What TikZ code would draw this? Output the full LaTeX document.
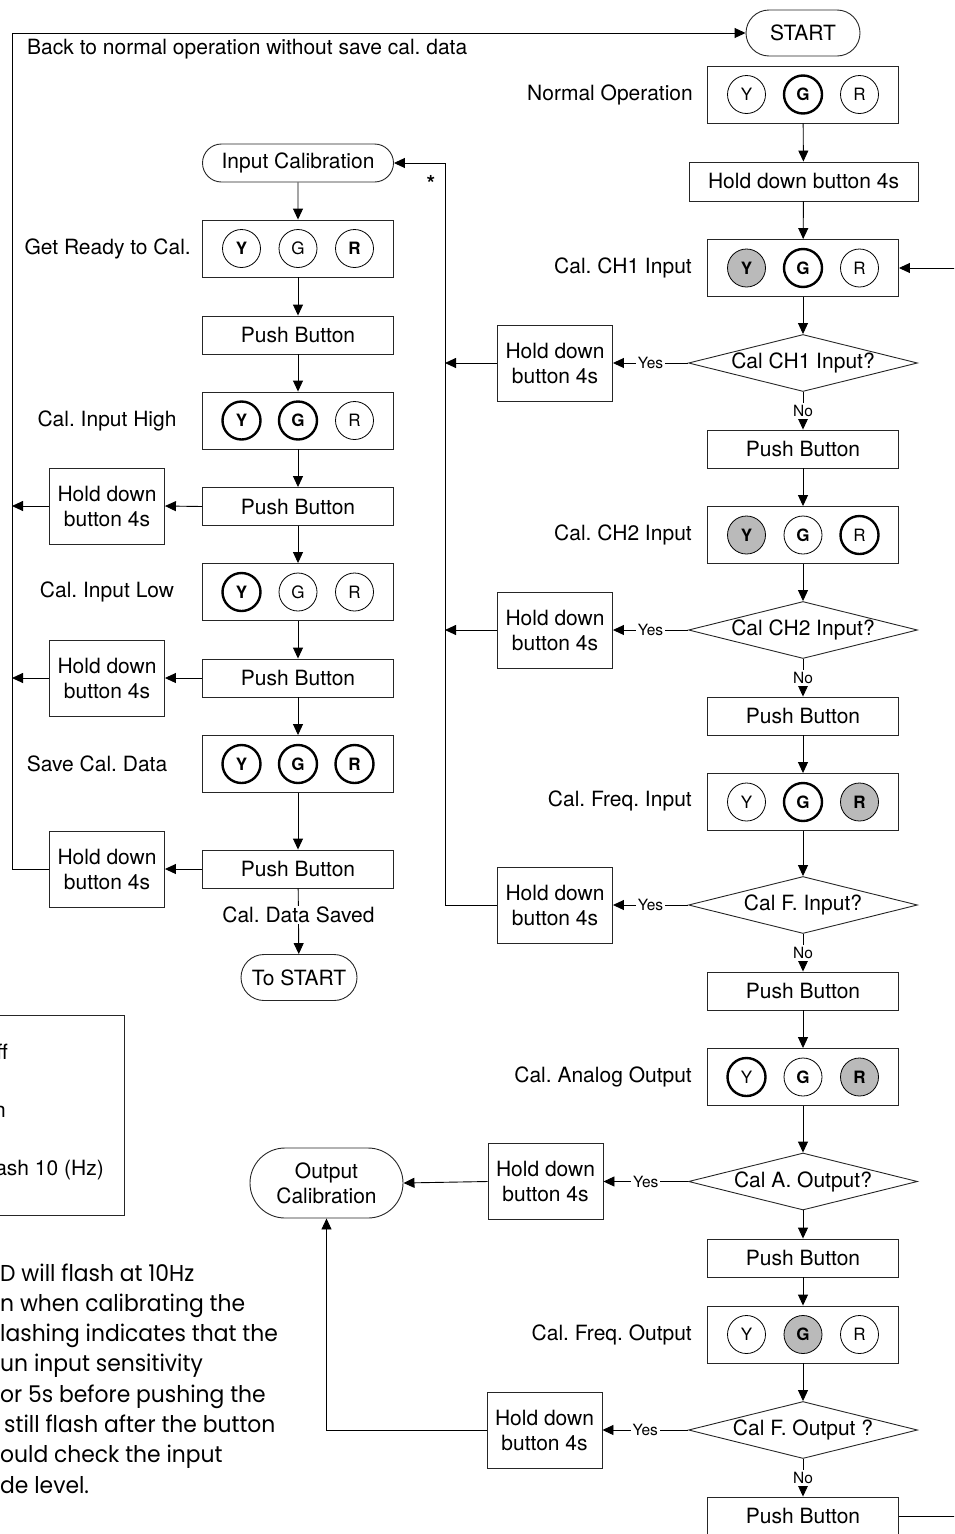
\documentclass[tikz,border=0pt]{standalone}
\usepackage{fontspec}
\setmainfont{TeX Gyre Heros}
\newfontfamily\notefont[FakeStretch=0.95]{Poppins}
\usetikzlibrary{shapes.geometric,shapes.misc,arrows.meta,calc}
\newcommand{\ledrow}[6]{%
  \node[ledbox] (#1) at (#2,#3) {};
  \node[#4] (#1y) at ([xshift=-56.5pt]#1.center) {Y};
  \node[#5] (#1g) at (#1.center) {G};
  \node[#6] (#1r) at ([xshift=56.5pt]#1.center) {R};
}
\frenchspacing
\begin{document}
\begin{tikzpicture}[x=1pt,y=-1pt,
  every node/.style={font=\fontsize{21}{25}\selectfont},
  box/.style={draw=black!85, line width=0.9pt, minimum width=191pt, minimum height=38pt, inner sep=0pt, align=center},
  ledbox/.style={box, minimum height=57pt},
  holdbox/.style={draw=black!85, line width=0.9pt, minimum width=115pt, minimum height=76pt, inner sep=0pt, align=center},
  term/.style={draw=black!85, line width=0.9pt, rounded rectangle, inner sep=0pt, align=center},
  dec/.style={draw=black!85, line width=0.9pt, diamond, minimum width=229pt, minimum height=57pt, inner sep=0pt},
  led/.style={circle, minimum size=38pt, inner sep=0pt, font=\fontsize{17}{17}\selectfont},
  ledoff/.style={led, draw, line width=0.8pt},
  ledoffb/.style={ledoff, font=\fontsize{17}{17}\selectfont\bfseries},
  ledon/.style={led, draw, line width=2.4pt, font=\fontsize{17}{17}\selectfont\bfseries},
  ledonn/.style={led, draw, line width=2.4pt},
  ledfl/.style={led, draw, line width=0.8pt, fill=black!27, font=\fontsize{17}{17}\selectfont\bfseries},
  yn/.style={fill=white, inner sep=2pt, font=\fontsize{15.5}{16}\selectfont},
  arr/.style={-{Triangle[length=11pt,width=10pt]}, line width=0.9pt},
  ln/.style={line width=0.9pt},
  note/.style={anchor=base west, inner sep=0pt, font=\notefont\fontsize{23}{30}\selectfont}
]
\path[use as bounding box, clip] (0,0) rectangle (954,1534);

% ---------- right column ----------
\node[term, minimum width=114pt, minimum height=46pt] (start) at (803,33) {START};
\node[anchor=west, inner sep=0pt] (back) at (27,49) {Back to normal operation without save cal. data};
\ledrow{nop}{803}{94.5}{ledoff}{ledon}{ledoff}
\node[anchor=east, inner sep=0pt] (nopl) at (693,95) {Normal Operation};
\node[box, minimum width=229pt, minimum height=39pt] (hold0) at (803.5,181.5) {Hold down button 4s};

\ledrow{ch1}{803}{268}{ledfl}{ledon}{ledoff}
\node[anchor=east, inner sep=0pt] (ch1l) at (692,268) {Cal. CH1 Input};
\node[dec] (d1) at (803,363) {\makebox[0pt]{Cal CH1 Input?}};
\node[holdbox] (h1) at (555,363) {Hold down\\button 4s};
\node[box] (p1) at (803,449) {Push Button};

\ledrow{ch2}{803}{535}{ledfl}{ledoffb}{ledonn}
\node[anchor=east, inner sep=0pt] (ch2l) at (692,535) {Cal. CH2 Input};
\node[dec] (d2) at (803,630) {\makebox[0pt]{Cal CH2 Input?}};
\node[holdbox] (h2) at (555,630) {Hold down\\button 4s};
\node[box] (p2) at (803,716) {Push Button};

\ledrow{fi}{803}{802}{ledoff}{ledon}{ledfl}
\node[anchor=east, inner sep=0pt] (fil) at (692,801) {Cal. Freq. Input};
\node[dec] (d3) at (803,905) {\makebox[0pt]{Cal F. Input?}};
\node[holdbox] (h3) at (555,905) {Hold down\\button 4s};
\node[box] (p3) at (803,991) {Push Button};

\ledrow{ao}{803}{1077}{ledonn}{ledoffb}{ledfl}
\node[anchor=east, inner sep=0pt] (aol) at (692,1077) {Cal. Analog Output};
\node[dec] (d4) at (803,1181.5) {\makebox[0pt]{Cal A. Output?}};
\node[holdbox] (h4) at (545.5,1181.5) {Hold down\\button 4s};
\node[box] (p4) at (803,1258) {Push Button};

\ledrow{fo}{803}{1334.5}{ledoff}{ledfl}{ledoff}
\node[anchor=east, inner sep=0pt] (fol) at (692,1335) {Cal. Freq. Output};
\node[dec] (d5) at (803,1430) {\makebox[0pt]{Cal F. Output ?}};
\node[holdbox] (h5) at (544.5,1430) {Hold down\\button 4s};
\node[box] (p5) at (803,1516) {Push Button};

\node[term, minimum width=153pt, minimum height=70pt] (oc) at (326.5,1183) {Output\\Calibration};

% ---------- left column ----------
\node[term, minimum width=191pt, minimum height=38pt] (ic) at (298,163) {Input Calibration};
\node[inner sep=0pt, font=\fontsize{22}{22}\selectfont\bfseries] (star) at (431,183) {*};
\ledrow{gr}{298}{248.5}{ledoffb}{ledoff}{ledoffb}
\node[anchor=east, inner sep=0pt] (grl) at (191,248.5) {Get Ready to Cal.};
\node[box] (lp1) at (298,335) {Push Button};
\ledrow{ih}{298}{420.5}{ledon}{ledon}{ledoff}
\node[inner sep=0pt] (ihl) at (107,420.5) {Cal. Input High};
\node[box] (lp2) at (298,506.5) {Push Button};
\node[holdbox] (lh1) at (107,506) {Hold down\\button 4s};
\ledrow{il}{298}{592}{ledon}{ledoff}{ledoff}
\node[inner sep=0pt] (ill) at (107,592) {Cal. Input Low};
\node[box] (lp3) at (298,678) {Push Button};
\node[holdbox] (lh2) at (107,678) {Hold down\\button 4s};
\ledrow{sv}{298}{764}{ledon}{ledon}{ledon}
\node[inner sep=0pt] (svl) at (97,764) {Save Cal. Data};
\node[box] (lp4) at (298,869) {Push Button};
\node[holdbox] (lh3) at (107,869) {Hold down\\button 4s};
\node[term, minimum width=116pt, minimum height=46pt] (ts) at (299,977.5) {To START};

% ---------- legend (cut at the left edge, as in the reference) ----------
\draw[ln, draw=black!85] (-60,1015) rectangle (124,1215);
\node[anchor=east, inner sep=0pt] (lg1) at (8,1052) {Off};
\node[anchor=east, inner sep=0pt] (lg2) at (6,1110) {On};
\node[anchor=east, inner sep=0pt] (lg3) at (104,1170) {Flash 10 (Hz)};

% ---------- note (cut at the left edge, as in the reference) ----------
\node[note] (n1) at (0,1281) {D will flash at 10Hz};
\node[note] (n2) at (0,1311) {n when calibrating the};
\node[note] (n3) at (0,1341) {lashing indicates that the};
\node[note] (n4) at (0,1371) {un input sensitivity};
\node[note] (n5) at (0,1402) {or 5s before pushing the};
\node[note] (n6) at (4,1432) {still flash after the button};
\node[note] (n7) at (0,1462) {ould check the input};
\node[note] (n8) at (0,1493) {de level.};

% ---------- connectors: right column ----------
\coordinate (v1) at (445,363);
\coordinate (v2) at (445,630);
\coordinate (v3) at (445,905);
\coordinate (v0) at (445,163);
\coordinate (rin) at (960,268);
\coordinate (rout) at (960,1516);
\draw[arr] (nop) -- (hold0);
\draw[arr] (hold0) -- (ch1);
\draw[arr] (ch1) -- (d1);
\draw[arr] (d1) -- node[yn] {No} (p1);
\draw[arr] (p1) -- (ch2);
\draw[arr] (ch2) -- (d2);
\draw[arr] (d2) -- node[yn] {No} (p2);
\draw[arr] (p2) -- (fi);
\draw[arr] (fi) -- (d3);
\draw[arr] (d3) -- node[yn] {No} (p3);
\draw[arr] (p3) -- (ao);
\draw[arr] (ao) -- (d4);
\draw[arr] (d4) -- (p4);
\draw[arr] (p4) -- (fo);
\draw[arr] (fo) -- (d5);
\draw[arr] (d5) -- node[yn] {No} (p5);
\draw[arr] (d1.west) -- node[yn] {Yes} (h1.east);
\draw[arr] (d2.west) -- node[yn] {Yes} (h2.east);
\draw[arr] (d3.west) -- node[yn] {Yes} (h3.east);
\draw[arr] (d4.west) -- node[yn] {Yes} (h4.east);
\draw[arr] (d5.west) -- node[yn] {Yes} (h5.east);
\draw[arr] (h1.west) -- (v1);
\draw[arr] (h2.west) -- (v2);
\draw[arr] (h3.west) -- (v3) -- (v0) -- (ic.east);
\draw[arr] (h4.west) -- (oc.east);
\draw[arr] (h5.west) -| (oc.south);
\draw[arr] (rin) -- (ch1.east);
\draw[ln] (p5.east) -- (rout);

% ---------- connectors: left column ----------
\coordinate (w1) at (12,506);
\coordinate (w2) at (12,678);
\coordinate (w3) at (12,869);
\coordinate (w0) at (12,33);
\draw[arr] (ic) -- (gr);
\draw[arr] (gr) -- (lp1);
\draw[arr] (lp1) -- (ih);
\draw[arr] (ih) -- (lp2);
\draw[arr] (lp2) -- (il);
\draw[arr] (il) -- (lp3);
\draw[arr] (lp3) -- (sv);
\draw[arr] (sv) -- (lp4);
\draw[arr] (lp4) -- node[pos=0.4, fill=white, inner sep=1pt] (cds) {Cal. Data Saved} (ts);
\draw[arr] (lp2.west) -- (lh1.east);
\draw[arr] (lp3.west) -- (lh2.east);
\draw[arr] (lp4.west) -- (lh3.east);
\draw[arr] (lh1.west) -- (w1);
\draw[arr] (lh2.west) -- (w2);
\draw[arr] (lh3.west) -- (w3) -- (w0) -- (start.west);
\end{tikzpicture}
\end{document}
